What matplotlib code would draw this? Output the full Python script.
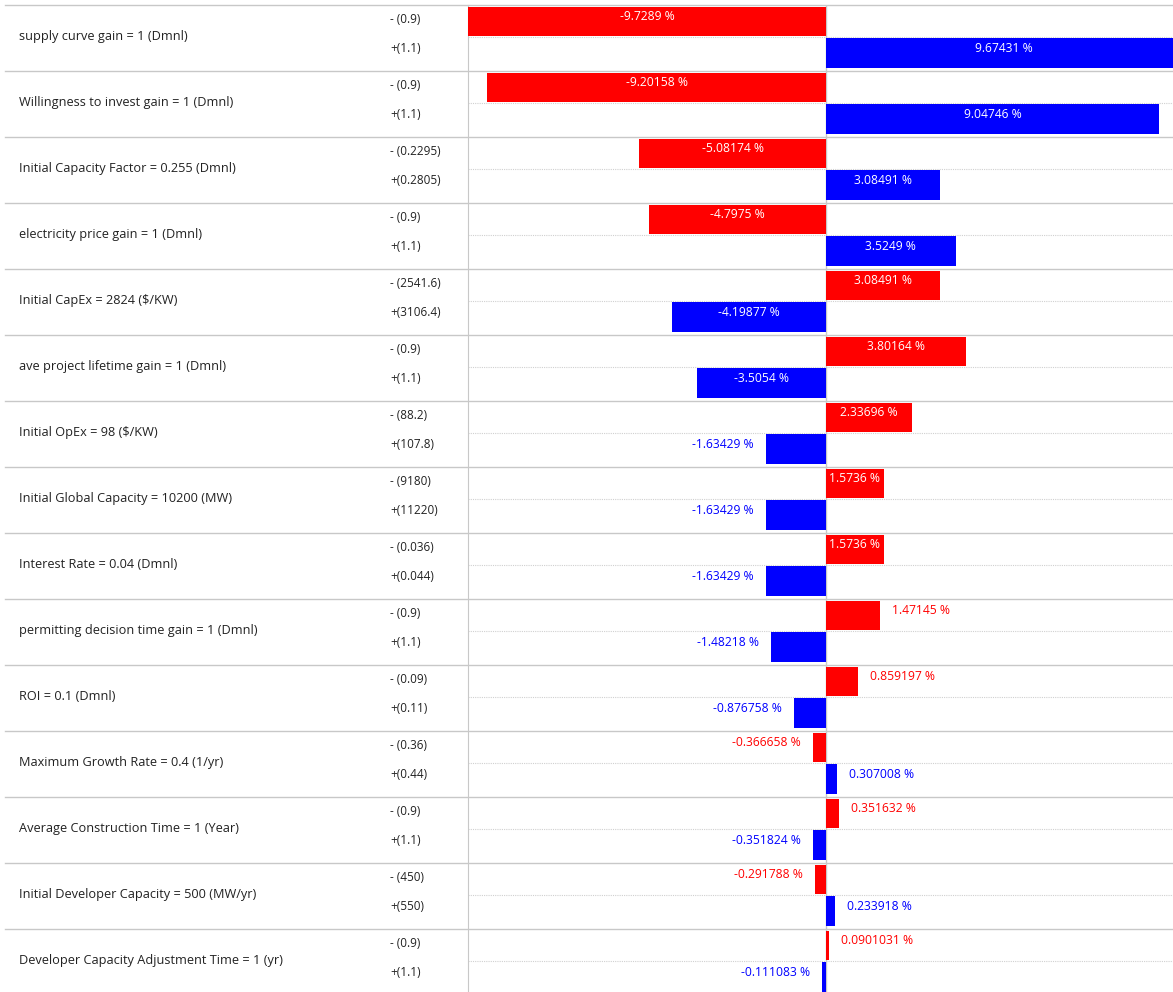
import matplotlib
matplotlib.use("Agg")
import matplotlib.pyplot as plt
from matplotlib.lines import Line2D
from matplotlib.transforms import blended_transform_factory

plt.rcParams['font.family'] = ['Open Sans', 'DejaVu Sans']

# Data
params = [
    "supply curve gain = 1 (Dmnl)",
    "Willingness to invest gain = 1 (Dmnl)",
    "Initial Capacity Factor = 0.255 (Dmnl)",
    "electricity price gain = 1 (Dmnl)",
    "Initial CapEx = 2824 ($/KW)",
    "ave project lifetime gain = 1 (Dmnl)",
    "Initial OpEx = 98 ($/KW)",
    "Initial Global Capacity = 10200 (MW)",
    "Interest Rate = 0.04 (Dmnl)",
    "permitting decision time gain = 1 (Dmnl)",
    "ROI = 0.1 (Dmnl)",
    "Maximum Growth Rate = 0.4 (1/yr)",
    "Average Construction Time = 1 (Year)",
    "Initial Developer Capacity = 500 (MW/yr)",
    "Developer Capacity Adjustment Time = 1 (yr)",
]
low_inputs = ["0.9", "0.9", "0.2295", "0.9", "2541.6", "0.9", "88.2", "9180",
              "0.036", "0.9", "0.09", "0.36", "0.9", "450", "0.9"]
high_inputs = ["1.1", "1.1", "0.2805", "1.1", "3106.4", "1.1", "107.8", "11220",
               "0.044", "1.1", "0.11", "0.44", "1.1", "550", "1.1"]
low_change = [-9.7289, -9.20158, -5.08174, -4.7975, 3.08491, 3.80164, 2.33696, 1.5736,
              1.5736, 1.47145, 0.859197, -0.366658, 0.351632, -0.291788, 0.0901031]
high_change = [9.67431, 9.04746, 3.08491, 3.5249, -4.19877, -3.5054, -1.63429, -1.63429,
               -1.63429, -1.48218, -0.876758, 0.307008, -0.351824, 0.233918, -0.111083]

W, H = 1173, 992
fig = plt.figure(figsize=(W / 100, H / 100), dpi=100)
ax = fig.add_axes([468 / W, -3 / H, (W - 468) / W, 990 / H])

n = len(params)
red, blue = '#ff0000', '#0000ff'
bar_h = 0.45
ax.barh([i + 0.25 for i in range(n)], low_change, height=bar_h, color=red, zorder=3)
ax.barh([i + 0.73 for i in range(n)], high_change, height=bar_h, color=blue, zorder=3)

ax.set_xlim(-9.73, 9.43)
ax.set_ylim(n, 0)
ax.set_xticks([])
ax.set_yticks([])
for s in ['top', 'right', 'bottom']:
    ax.spines[s].set_visible(False)
ax.spines['left'].set_color('#c8c8c8')
ax.axvline(0, color='#c8c8c8', lw=1, zorder=2)

# separators and dotted mid lines
tr = blended_transform_factory(fig.transFigure, ax.transData)
for i in range(n + 1):
    fig.add_artist(Line2D([5 / W, 1], [i, i], transform=tr, color='#c8c8c8', lw=1))
for i in range(n):
    ax.axhline(i + 0.49, color='#d0d0d0', lw=0.8, ls=(0, (1, 1)), zorder=1)

txt_color = '#222222'
for i in range(n):
    ax.text(19 / W, i + 0.47, params[i], transform=tr, ha='left', va='center',
            fontsize=9.2, color=txt_color)
    ax.text(390 / W, i + 0.22, f"- ({low_inputs[i]})", transform=tr, ha='left', va='center',
            fontsize=8.5, color=txt_color)
    ax.text(390 / W, i + 0.66, f"+({high_inputs[i]})", transform=tr, ha='left', va='center',
            fontsize=8.5, color=txt_color)

# value labels: inside the bar if it fits, otherwise outside
fig.canvas.draw()
renderer = fig.canvas.get_renderer()
px_per_unit = ax.transData.transform((1, 0))[0] - ax.transData.transform((0, 0))[0]
pad = 12 / px_per_unit
for vals, dy, col in [(low_change, 0.18, red), (high_change, 0.66, blue)]:
    for i, v in enumerate(vals):
        label = f"{v:g} %"
        t = ax.text(v / 2, i + dy, label, ha='center', va='center', fontsize=8.7,
                    color='white', zorder=4)
        w = t.get_window_extent(renderer).width
        if w >= abs(v) * px_per_unit:
            t.set_color(col)
            if v >= 0:
                t.set_x(v + pad)
                t.set_ha('left')
            else:
                t.set_x(v - pad)
                t.set_ha('right')

fig.savefig("out.png", dpi=100)
